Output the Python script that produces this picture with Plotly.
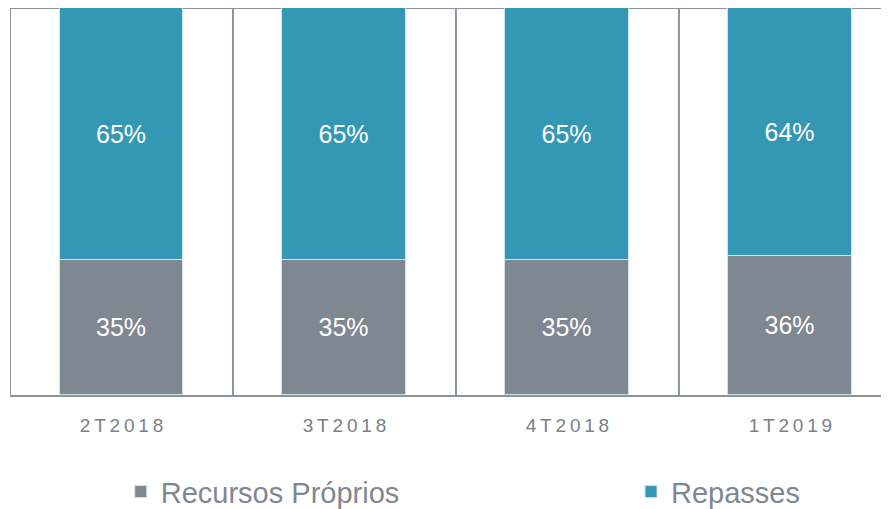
import plotly.graph_objects as go

# dados (participação % por trimestre)
categorias = ["2T2018", "3T2018", "4T2018", "1T2019"]
recursos_proprios = [35, 35, 35, 36]
repasses = [65, 65, 65, 64]

CINZA = "#7f8790"
AZUL = "#3498b5"
LINHA = "#8c939b"
FONTE = "Liberation Sans, Arial"

# a página tem 8px de margem no body: figura um pouco menor que a janela
fig = go.Figure()
for nome, vals, cor, leg in [
    ("Recursos Próprios", recursos_proprios, CINZA, "legend"),
    ("Repasses", repasses, AZUL, "legend2"),
]:
    fig.add_trace(
        go.Bar(
            x=categorias,
            y=[v / 100 for v in vals],
            name=nome,
            legend=leg,
            marker=dict(color=cor, line=dict(color="#cfe3ea", width=1)),
            text=[f"{v}%" for v in vals],
            textposition="inside",
            insidetextanchor="middle",
            textfont=dict(color="white", size=25, family=FONTE),
            width=0.556,
        )
    )

# linhas de separação entre categorias + borda superior
x_fim = 3.442
for xv in [-0.5, 0.5, 1.5, 2.5]:
    fig.add_shape(type="line", xref="x", yref="paper", x0=xv, x1=xv, y0=0, y1=1,
                  line=dict(color=LINHA, width=2), layer="below")
fig.add_shape(type="line", xref="x", yref="paper", x0=-0.5, x1=x_fim, y0=1, y1=1,
              line=dict(color=LINHA, width=2), layer="below")

leg_font = dict(size=29, color=CINZA, family=FONTE)
fig.update_layout(
    barmode="stack",
    width=881,
    height=501,
    margin=dict(l=2, r=0, t=0, b=114, autoexpand=False),
    plot_bgcolor="white",
    paper_bgcolor="white",
    showlegend=True,
    legend=dict(x=0.126, xanchor="left", y=-0.25, yanchor="middle",
                font=leg_font, itemclick=False, bgcolor="rgba(0,0,0,0)"),
    legend2=dict(x=0.7065, xanchor="left", y=-0.25, yanchor="middle",
                 font=leg_font, itemclick=False, bgcolor="rgba(0,0,0,0)"),
    bargap=0,
)
fig.update_xaxes(
    range=[-0.5, x_fim],
    tickvals=categorias,
    ticktext=["\u2009".join(c) for c in categorias],
    showline=True,
    linecolor=LINHA,
    linewidth=2,
    ticks="",
    ticklabelstandoff=12,
    showgrid=False,
    tickfont=dict(size=19, color="#7a8088", family=FONTE),
)
fig.update_yaxes(range=[0, 1], visible=False, showgrid=False)

fig.write_html("out.html")
